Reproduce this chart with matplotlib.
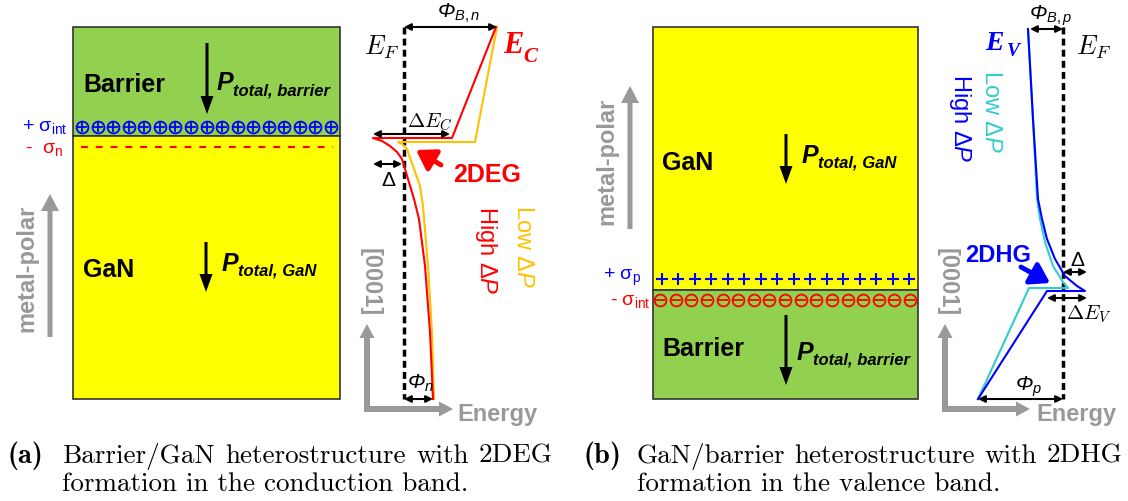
import matplotlib
matplotlib.use('Agg')
import matplotlib.pyplot as plt
from matplotlib.patches import Rectangle

plt.rcParams['mathtext.fontset'] = 'custom'
plt.rcParams['mathtext.rm'] = 'Liberation Sans'
plt.rcParams['mathtext.it'] = 'Liberation Sans:italic'
plt.rcParams['mathtext.bf'] = 'Liberation Sans:bold'

SANS = 'Liberation Sans'
SERIF = 'Liberation Serif'
GREEN, YELLOW = '#92D050', '#FFFF00'
RED, ORANGE, BLUE, CYAN = '#FF0000', '#FFC000', '#0000FF', '#33CCCC'
GRAY = '#999999'

# band profiles, (a) conduction band: energy position vs depth
ec_high_x = [496, 452, 373, 382, 390, 397, 402, 408, 414, 419, 425, 430, 433]
ec_high_y = [28, 139, 139, 142, 147, 153, 160, 180, 200, 220, 267, 333, 400]
ec_low_x = [497, 475, 398, 402, 407, 413, 420, 423, 428, 432, 434]
ec_low_y = [28, 143, 143, 145, 150, 167, 187, 207, 267, 333, 400]

# (b) valence band
ev_high_x = [1028, 1033, 1038, 1042, 1047, 1055, 1065, 1077, 1085, 1047, 978]
ev_high_y = [30, 120, 200, 220, 240, 260, 277, 287, 292, 292, 400]
ev_low_x = [1028, 1033, 1037, 1040, 1045, 1053, 1063, 1068, 1029, 978]
ev_low_y = [30, 120, 200, 220, 243, 267, 283, 289, 289, 400]

n_charges = 17
n_plus = 16

fig = plt.figure(figsize=(11.28, 5.02), dpi=100)
ax = fig.add_axes([0, 0, 1, 1])
ax.set_xlim(0, 1128)
ax.set_ylim(502, 0)
ax.axis('off')


def block(x0, y0, x1, y1, color):
    ax.add_patch(Rectangle((x0, y0), x1 - x0, y1 - y0, facecolor=color,
                           edgecolor='#333333', lw=1.2))


def dbl(x0, x1, y):
    ax.annotate('', xy=(x1, y), xytext=(x0, y),
                arrowprops=dict(arrowstyle='<|-|>', color='k', lw=1.5,
                                mutation_scale=10, shrinkA=0, shrinkB=0))


def big_arrow(x, y0, y1, color='k', w=3, hw=13, hl=18):
    ax.arrow(x, y0, 0, y1 - y0, width=w, head_width=hw, head_length=hl,
             length_includes_head=True, color=color, lw=0)


def p_label(x, y, sub):
    ax.text(x, y, 'P', fontsize=18, family=SANS, weight='bold', style='italic',
            va='baseline')
    ax.text(x + 16, y + 5, sub, fontsize=12, family=SANS, weight='bold',
            style='italic', va='baseline')


def charges(x0, x1, y, kind, color):
    xs = [x0 + i * (x1 - x0) / (n_charges - 1) for i in range(n_charges)]
    ax.plot(xs, [y] * n_charges, 'o', ms=8.5, mfc='none', mec=color, mew=1.3)
    ax.plot(xs, [y] * n_charges, kind, ms=6.5, mec=color, mew=1.3)


def pointer(tail, tip, color):
    ax.annotate('', xy=tip, xytext=tail,
                arrowprops=dict(arrowstyle='-|>,head_length=0.7,head_width=0.45',
                                color=color, lw=3.5, mutation_scale=16,
                                shrinkA=0, shrinkB=0))


# ---------- (a) layers ----------
block(73, 28, 340, 137, GREEN)
block(73, 137, 340, 400, YELLOW)
ax.text(83, 92, 'Barrier', fontsize=18, family=SANS, weight='bold')
big_arrow(207, 44, 115)
p_label(217, 90, 'total, barrier')
charges(82, 331, 128, '+', BLUE)
ax.plot([81, 333], [148, 148], color=RED, lw=1.5, dashes=(3.3, 3.8))
ax.text(22, 131, '+ σ$_{\\rm int}$', fontsize=14, family=SANS, color=BLUE)
ax.text(25, 153, '-  σ$_{\\rm n}$', fontsize=14, family=SANS, color=RED)
ax.text(83, 277, 'GaN', fontsize=18, family=SANS, weight='bold')
big_arrow(206, 243, 293)
p_label(222, 271, 'total, GaN')
ax.text(27, 268, 'metal-polar', fontsize=17, family=SANS, weight='bold',
        color=GRAY, rotation=90, ha='center', va='center')
big_arrow(50, 338, 195, color=GRAY, w=5, hw=18, hl=17)

# ---------- (a) band diagram ----------
ax.plot([404, 404], [28, 400], color='k', lw=2.5, dashes=(2, 1.2))
ax.plot(ec_low_x, ec_low_y, color=ORANGE, lw=1.5)
ax.plot(ec_high_x, ec_high_y, color=RED, lw=1.5)
ax.text(364, 55, r'$E_F$', fontsize=19, math_fontfamily='cm')
ax.text(503, 53, 'E', fontsize=22, family=SERIF, weight='bold', style='italic',
        color=RED)
ax.text(523, 62, 'C', fontsize=15, family=SERIF, weight='bold', style='italic',
        color=RED)
dbl(404, 497, 28)
ax.text(437, 18, 'Φ$_{B,n}$', fontsize=15, family=SANS, style='italic')
dbl(373, 450, 135)
ax.text(407, 127, r'$\Delta E_C$', fontsize=15, math_fontfamily='cm')
dbl(373, 402, 165)
ax.text(388, 186, 'Δ', fontsize=15, family=SANS, ha='center')
pointer((441, 166), (416, 151), RED)
ax.text(453, 182, '2DEG', fontsize=18, family=SANS, weight='bold', color=RED)
ax.text(486, 250, 'High Δ$\\mathit{P}$', fontsize=17, family=SANS, color=RED,
        rotation=-90, ha='center', va='center')
ax.text(523, 247, 'Low Δ$\\mathit{P}$', fontsize=17, family=SANS, color=ORANGE,
        rotation=-90, ha='center', va='center')
dbl(404, 433, 400)
ax.text(407, 389, 'Φ$_{n}$', fontsize=15, family=SANS, style='italic')
ax.text(370, 282, '[0001]', fontsize=17, family=SANS, weight='bold', color=GRAY,
        rotation=-90, ha='center', va='center')
big_arrow(367, 410, 325, color=GRAY, w=6, hw=15, hl=14)
ax.arrow(364, 410, 89, 0, width=6, head_width=15, head_length=14,
         length_includes_head=True, color=GRAY, lw=0)
ax.text(457, 421, 'Energy', fontsize=17, family=SANS, weight='bold', color=GRAY)

# ---------- (b) layers ----------
block(653, 28, 918, 291, YELLOW)
block(653, 291, 918, 400, GREEN)
ax.text(662, 170, 'GaN', fontsize=18, family=SANS, weight='bold')
big_arrow(786, 135, 185)
p_label(802, 163, 'total, GaN')
px = [662 + i * (909 - 662) / (n_plus - 1) for i in range(n_plus)]
ax.plot(px, [280] * n_plus, '+', ms=9, mec=BLUE, mew=1.5)
charges(660, 910, 301, '_', RED)
ax.text(603, 280, '+ σ$_{\\rm p}$', fontsize=14, family=SANS, color=BLUE)
ax.text(610, 305, '- σ$_{\\rm int}$', fontsize=14, family=SANS, color=RED)
ax.text(662, 356, 'Barrier', fontsize=18, family=SANS, weight='bold')
big_arrow(786, 316, 386)
p_label(797, 360, 'total, barrier')
ax.text(607, 161, 'metal-polar', fontsize=17, family=SANS, weight='bold',
        color=GRAY, rotation=90, ha='center', va='center')
big_arrow(630, 230, 87, color=GRAY, w=5, hw=18, hl=17)

# ---------- (b) band diagram ----------
ax.plot([1063, 1063], [28, 400], color='k', lw=2.5, dashes=(2, 1.2))
ax.plot(ev_low_x, ev_low_y, color=CYAN, lw=1.5)
ax.plot(ev_high_x, ev_high_y, color=BLUE, lw=1.5)
ax.text(1076, 55, r'$E_F$', fontsize=19, math_fontfamily='cm')
ax.text(985, 50, 'E', fontsize=20, family=SERIF, weight='bold', style='italic',
        color=BLUE)
ax.text(1007, 56, 'V', fontsize=14, family=SERIF, weight='bold', style='italic',
        color=BLUE)
dbl(1030, 1063, 30)
ax.text(1029, 20, 'Φ$_{B,p}$', fontsize=15, family=SANS, style='italic')
ax.text(960, 118, 'High Δ$\\mathit{P}$', fontsize=17, family=SANS, color=BLUE,
        rotation=-90, ha='center', va='center')
ax.text(991, 112, 'Low Δ$\\mathit{P}$', fontsize=17, family=SANS, color=CYAN,
        rotation=-90, ha='center', va='center')
ax.text(965, 262, '2DHG', fontsize=17, family=SANS, weight='bold', color=BLUE)
pointer((1021, 268), (1050, 284), BLUE)
dbl(1063, 1087, 273)
ax.text(1077, 266, 'Δ', fontsize=15, family=SANS, ha='center')
dbl(1047, 1087, 299)
ax.text(1066, 319, r'$\Delta E_V$', fontsize=15, math_fontfamily='cm')
dbl(978, 1063, 400)
ax.text(1015, 391, 'Φ$_{p}$', fontsize=15, family=SANS, style='italic')
ax.text(947, 282, '[0001]', fontsize=17, family=SANS, weight='bold', color=GRAY,
        rotation=-90, ha='center', va='center')
big_arrow(945, 410, 325, color=GRAY, w=6, hw=15, hl=14)
ax.arrow(942, 410, 88, 0, width=6, head_width=15, head_length=14,
         length_includes_head=True, color=GRAY, lw=0)
ax.text(1036, 421, 'Energy', fontsize=17, family=SANS, weight='bold', color=GRAY)

# ---------- captions ----------
renderer = fig.canvas.get_renderer()


def justify(words, x0, x1, y, **kw):
    texts = [ax.text(0, y, w, **kw) for w in words]
    widths = [t.get_window_extent(renderer).width for t in texts]
    gap = (x1 - x0 - sum(widths)) / (len(words) - 1)
    x = x0
    for t, w in zip(texts, widths):
        t.set_x(x)
        x += w + gap


cap = dict(fontsize=19.5, family='cmr10', va='baseline')
ax.text(7, 463, '(a)', fontsize=20.5, family='cmb10', va='baseline')
justify(['Barrier/GaN', 'heterostructure', 'with', '2DEG'], 62, 553, 463, **cap)
ax.text(62, 491, 'formation in the conduction band.', **cap)
ax.text(584, 463, '(b)', fontsize=20.5, family='cmb10', va='baseline')
justify(['GaN/barrier', 'heterostructure', 'with', '2DHG'], 637, 1122, 463, **cap)
ax.text(637, 491, 'formation in the valence band.', **cap)

fig.savefig('out.png', dpi=100)
